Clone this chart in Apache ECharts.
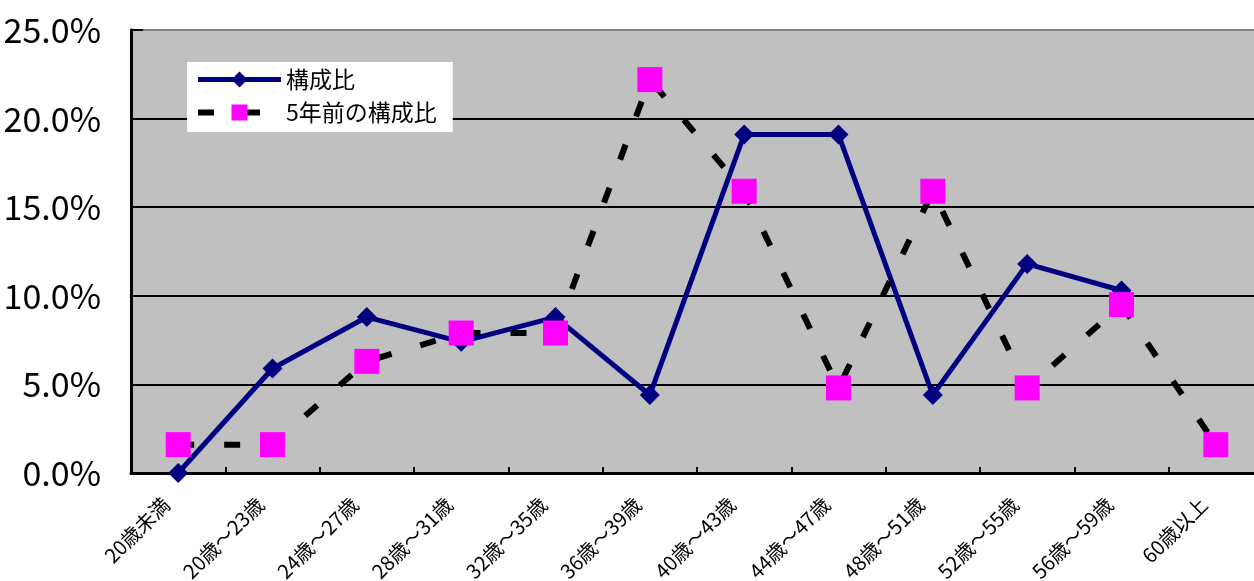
<!DOCTYPE html>
<html>
<head>
<meta charset="utf-8">
<script src="https://cdn.jsdelivr.net/npm/echarts@6/dist/echarts.min.js"></script>
<style>
  html, body { margin: 0; padding: 0; background: #ffffff; overflow: hidden; }
  #chart { width: 1263px; height: 581px; }
</style>
</head>
<body>
<div id="chart"></div>
<script>
// Age-band composition: current vs. five years earlier (percent)
const categories = ['20歳未満', '20歳～23歳', '24歳～27歳', '28歳～31歳', '32歳～35歳', '36歳～39歳',
                    '40歳～43歳', '44歳～47歳', '48歳～51歳', '52歳～55歳', '56歳～59歳', '60歳以上'];
const currentShare = [0.0, 5.9, 8.8, 7.4, 8.8, 4.4, 19.1, 19.1, 4.4, 11.8, 10.3, null];
const previousShare = [1.6, 1.6, 6.3, 7.9, 7.9, 22.2, 15.9, 4.8, 15.9, 4.8, 9.5, 1.6];
const seriesNames = ['構成比', '5年前の構成比'];

const chart = echarts.init(document.getElementById('chart'));
const cjk = "'Noto Sans CJK JP', 'Noto Sans', sans-serif";

chart.setOption({
  animation: false,
  textStyle: { fontFamily: cjk },
  grid: {
    left: 131, right: 0, top: 30, bottom: 108,
    outerBoundsMode: 'none',
    containLabel: false,
    show: true, backgroundColor: '#c0c0c0', borderColor: '#808080', borderWidth: 2
  },
  legend: {
    orient: 'vertical',
    left: 187, top: 62,
    backgroundColor: '#ffffff',
    padding: [6, 16, 8, 8],
    itemWidth: 83, itemHeight: 20, itemGap: 10,
    textStyle: { fontSize: 23, color: '#000', fontFamily: cjk },
    data: [
      { name: seriesNames[0], lineStyle: { width: 5 } },
      { name: seriesNames[1], lineStyle: { width: 6 } }
    ]
  },
  xAxis: {
    type: 'category',
    data: categories,
    boundaryGap: true,
    axisLine: { lineStyle: { color: '#000', width: 3 } },
    axisTick: { show: true, inside: true, length: 6, lineStyle: { color: '#000', width: 2 } },
    axisLabel: {
      rotate: 45, margin: 16, padding: [0, 17, 0, 0],
      fontSize: 20, color: '#000', fontFamily: cjk, interval: 0
    }
  },
  yAxis: {
    type: 'value',
    min: 0, max: 25, interval: 5,
    axisLine: { show: true, lineStyle: { color: '#000', width: 3 } },
    axisTick: { show: true, inside: true, length: 12, lineStyle: { color: '#000', width: 2 } },
    axisLabel: {
      margin: 30, fontSize: 34, color: '#000', fontFamily: cjk,
      formatter: v => v.toFixed(1) + '%'
    },
    splitLine: { show: true, lineStyle: { color: ['#000', '#000', '#000', '#000', '#000', '#808080'], width: 2 } }
  },
  series: [
    {
      name: seriesNames[0],
      type: 'line',
      data: currentShare,
      connectNulls: false,
      symbol: 'diamond',
      symbolSize: 20,
      color: '#000080',
      itemStyle: { color: '#000080' },
      lineStyle: { color: '#000080', width: 5 }
    },
    {
      name: seriesNames[1],
      type: 'line',
      data: previousShare,
      symbol: 'rect',
      symbolSize: 25,
      color: '#ff00ff',
      itemStyle: { color: '#ff00ff' },
      lineStyle: { color: '#000000', width: 6, type: [16, 30] }
    }
  ]
});
</script>
</body>
</html>
